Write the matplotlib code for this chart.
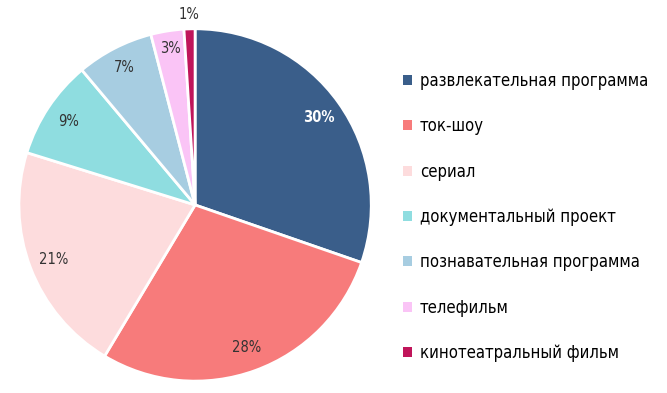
import matplotlib
matplotlib.use("Agg")
from matplotlib import pyplot as plt
from matplotlib.patches import Patch
import numpy as np

plt.rcParams['font.family'] = ['DejaVu Sans']
plt.rcParams['font.stretch'] = 'condensed'

labels = ["развлекательная программа", "ток-шоу", "сериал",
          "документальный проект", "познавательная программа",
          "телефильм", "кинотеатральный фильм"]
shares = [30, 28, 21, 9, 7, 3, 1]
colors = ["#3a5e8a", "#f77b7b", "#fddcdd", "#8fdde0", "#a7cde1", "#fac4f6", "#c0155a"]

fig = plt.figure(figsize=(6.67, 3.93), dpi=100)
ax = fig.add_axes([0.027, 0.028, 0.531, 0.901])

wedges, texts, autotexts = ax.pie(
    shares, colors=colors, startangle=90, counterclock=False,
    autopct=lambda p: f"{p:.0f}%", pctdistance=0.86,
    wedgeprops=dict(edgecolor="white", linewidth=2),
    textprops=dict(fontsize=10.5, color="#333333"))
ax.set_aspect("equal")
ax.set_xlim(-1.005, 1.005)
ax.set_ylim(-1.005, 1.005)

autotexts[0].set_color("white")
autotexts[0].set_fontweight("bold")
# small slices: push labels outward
for i, r in [(4, 0.88), (5, 0.9), (6, 1.08)]:
    w = wedges[i]
    ang = np.deg2rad((w.theta1 + w.theta2) / 2)
    autotexts[i].set_position((r * np.cos(ang), r * np.sin(ang)))

handles = [Patch(facecolor=c, edgecolor="none") for c in colors]
fig.legend(handles, labels, loc="upper left", bbox_to_anchor=(0.581, 0.855),
           frameon=False, fontsize=12, labelspacing=1.64,
           handlelength=0.55, handleheight=0.55, handletextpad=0.5)

fig.savefig("out.png", dpi=100)
